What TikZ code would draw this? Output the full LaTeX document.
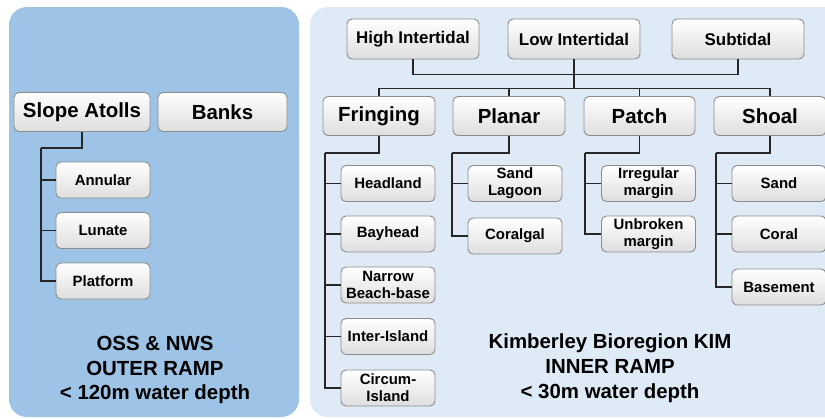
\documentclass[tikz,border=0pt]{standalone}
\usepackage{fontspec}
\setmainfont{Liberation Sans}
\usetikzlibrary{positioning}
\definecolor{outerblue}{RGB}{157,195,230}
\definecolor{innerblue}{RGB}{222,235,247}

\begin{document}
\begin{tikzpicture}[x=1bp,y=-1bp,
	box/.style={draw=black!45, line width=0.9bp, rounded corners=5bp, top color=white, bottom color=black!13, align=center, inner sep=1bp},
	tierbox/.style={box, minimum width=132bp, minimum height=40bp, font=\bfseries\fontsize{17}{19}\selectfont},
	catbox/.style={box, minimum height=39bp, font=\bfseries\fontsize{20.5}{23}\selectfont},
	subbox/.style={box, minimum width=94bp, minimum height=36bp, font=\bfseries\fontsize{15}{17}\selectfont},
	link/.style={draw=black!85, line width=1.2bp},
	ramp/.style={align=center, font=\bfseries\fontsize{20.5}{25}\selectfont}]
	\useasboundingbox (0,0) rectangle (825,418);
	\fill[white] (0,0) rectangle (825,418);
	\fill[outerblue, rounded corners=18bp] (9,7) rectangle (299,417);
	\fill[innerblue, rounded corners=18bp] (310,7) rectangle (860,417);

	\node[catbox, minimum width=136bp] (slope) at (82,112) {Slope Atolls};
	\node[catbox, minimum width=129bp] (banks) at (222.5,112) {Banks};
	\node[subbox] (annular) at (103,180) {Annular};
	\node[subbox] (lunate) at (103,230.5) {Lunate};
	\node[subbox] (platform) at (103,281) {Platform};
	\coordinate (lbus) at (41,148);
	\draw[link] (slope.south) |- (lbus);
	\foreach \c in {annular,lunate,platform}
		\draw[link] (lbus) |- (\c.west);
	\node[ramp] (outer) at (155,370) {OSS \& NWS\\OUTER RAMP\\< 120m water depth};

	\node[tierbox] (high) at (413,39) {High Intertidal};
	\node[tierbox] (low) at (574,39) {Low Intertidal};
	\node[tierbox] (sub) at (738,39) {Subtidal};
	\node[catbox, minimum width=112bp] (fringing) at (379,116) {Fringing};
	\node[catbox, minimum width=112bp] (planar) at (509,116) {Planar};
	\node[catbox, minimum width=111bp] (patch) at (639.5,116) {Patch};
	\node[catbox, minimum width=112bp] (shoal) at (770,116) {Shoal};
	\draw[link] (high.south) -- ++(0,15) -| (sub.south);
	\draw[link] (low.south) -- ++(0,29) coordinate (mbus);
	\foreach \c in {fringing,planar,patch,shoal}
		\draw[link] (mbus) -| (\c.north);

	\node[subbox] (headland) at (388,183.5) {Headland};
	\node[subbox] (bayhead) at (388,234) {Bayhead};
	\node[subbox] (narrow) at (388,285) {Narrow\\Beach-base};
	\node[subbox] (inter) at (388,336.5) {Inter-Island};
	\node[subbox] (circum) at (388,388) {Circum-\\Island};
	\coordinate (fbus) at (325,153);
	\draw[link] (fringing.south) |- (fbus);
	\foreach \c in {headland,bayhead,narrow,inter,circum}
		\draw[link] (fbus) |- (\c.west);

	\node[subbox] (sandlagoon) at (515,183.5) {Sand\\Lagoon};
	\node[subbox] (coralgal) at (515,236) {Coralgal};
	\coordinate (pbus) at (452,153);
	\draw[link] (planar.south) |- (pbus);
	\foreach \c in {sandlagoon,coralgal}
		\draw[link] (pbus) |- (\c.west);

	\node[subbox] (irregular) at (648.5,183.5) {Irregular\\margin};
	\node[subbox] (unbroken) at (648.5,234) {Unbroken\\margin};
	\coordinate (tbus) at (585,153);
	\draw[link] (patch.south) |- (tbus);
	\foreach \c in {irregular,unbroken}
		\draw[link] (tbus) |- (\c.west);

	\node[subbox] (sand) at (779,183.5) {Sand};
	\node[subbox] (coral) at (779,234) {Coral};
	\node[subbox] (basement) at (779,287) {Basement};
	\coordinate (sbus) at (716,153);
	\draw[link] (shoal.south) |- (sbus);
	\foreach \c in {sand,coral,basement}
		\draw[link] (sbus) |- (\c.west);

	\node[ramp] (inner) at (610,368) {Kimberley Bioregion KIM\\INNER RAMP\\< 30m water depth};
\end{tikzpicture}
\end{document}
